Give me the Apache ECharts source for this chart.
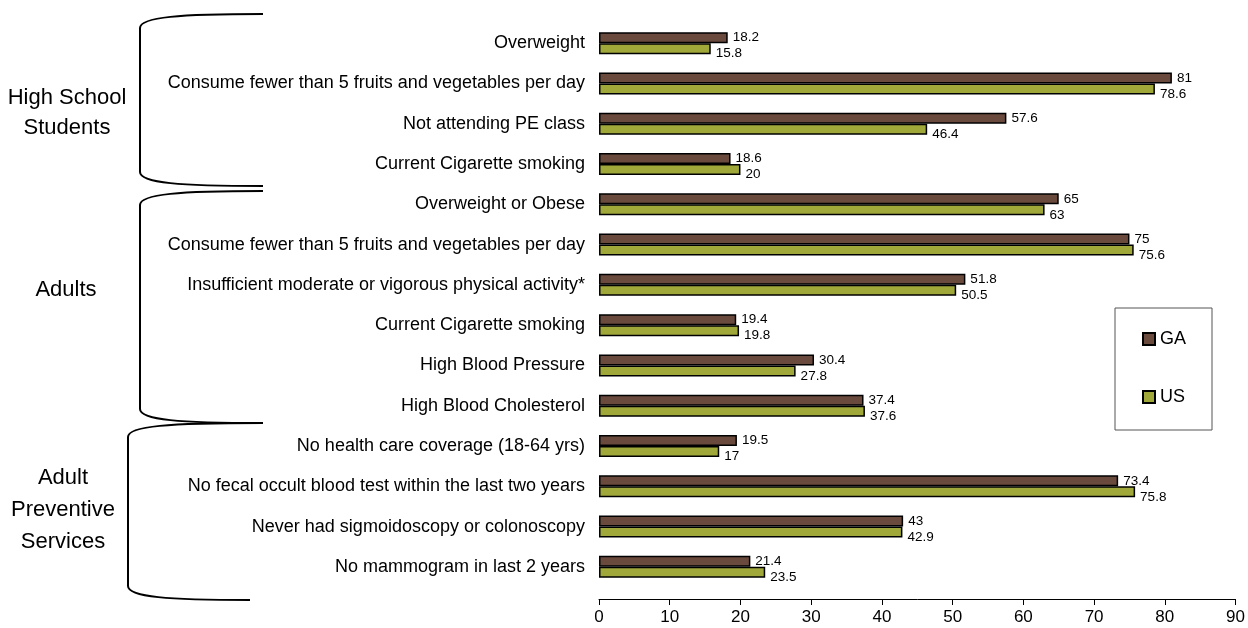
<!DOCTYPE html>
<html>
<head>
<meta charset="utf-8">
<script src="https://cdn.jsdelivr.net/npm/echarts@6/dist/echarts.min.js"></script>
<style>
  html, body { margin: 0; padding: 0; background: #fff; }
  #chart { width: 1248px; height: 628px; }
</style>
</head>
<body>
<div id="chart"></div>
<script>
const categories = [
  'Overweight',
  'Consume fewer than 5 fruits and vegetables per day',
  'Not attending PE class',
  'Current Cigarette smoking',
  'Overweight or Obese',
  'Consume fewer than 5 fruits and vegetables per day',
  'Insufficient moderate or vigorous physical activity*',
  'Current Cigarette smoking',
  'High Blood Pressure',
  'High Blood Cholesterol',
  'No health care coverage (18-64 yrs)',
  'No fecal occult blood test within the last two years',
  'Never had sigmoidoscopy or colonoscopy',
  'No mammogram in last 2 years'
]
const gaValues = [18.2, 81, 57.6, 18.6, 65, 75, 51.8, 19.4, 30.4, 37.4, 19.5, 73.4, 43, 21.4]
const usValues = [15.8, 78.6, 46.4, 20, 63, 75.6, 50.5, 19.8, 27.8, 37.6, 17, 75.8, 42.9, 23.5]
const xTicks = [0, 90, 10] // min, max, interval

const FONT = '"Liberation Sans", Arial, sans-serif'

// left-hand braces: vertical x, tip x (top / bottom), tip y (top / bottom)
function brace(x, tipTopX, tipBotX, yTop, yBot) {
  const h = 14
  const st = { stroke: '#000', lineWidth: 2, fill: null }
  return [
    { type: 'bezierCurve', shape: { x1: tipTopX, y1: yTop, x2: x, y2: yTop + h, cpx1: x + 40, cpy1: yTop, cpx2: x, cpy2: yTop + 3 }, style: st },
    { type: 'line', shape: { x1: x, y1: yTop + h, x2: x, y2: yBot - h }, style: st },
    { type: 'bezierCurve', shape: { x1: x, y1: yBot - h, x2: tipBotX, y2: yBot, cpx1: x, cpy1: yBot - 3, cpx2: x + 40, cpy2: yBot }, style: st }
  ]
}

function groupLabel(text, x, y, lh) {
  return {
    type: 'text', x: x, y: y,
    style: { text: text, fill: '#000', font: '22px ' + FONT, textAlign: 'center', textVerticalAlign: 'middle', lineHeight: lh }
  }
}

const chart = echarts.init(document.getElementById('chart'))
chart.setOption({
  animation: false,
  textStyle: { fontFamily: FONT },
  grid: { left: 599, right: 10, top: 23, bottom: 41 },
  legend: {
    orient: 'vertical',
    left: 1115, top: 308,
    padding: [22, 26, 24, 27],
    itemGap: 40,
    itemWidth: 12, itemHeight: 12,
    icon: 'rect',
    borderColor: '#555', borderWidth: 1,
    textStyle: { fontSize: 18, color: '#000', fontFamily: FONT },
    data: ['GA', 'US']
  },
  xAxis: {
    type: 'value',
    min: xTicks[0], max: xTicks[1], interval: xTicks[2],
    offset: 12,
    splitLine: { show: false },
    axisLine: { show: true, lineStyle: { color: '#000', width: 1 } },
    axisTick: { show: true, length: 6, lineStyle: { color: '#000' } },
    axisLabel: { color: '#000', fontSize: 17, margin: 10, fontFamily: FONT }
  },
  yAxis: {
    type: 'category',
    inverse: true,
    data: categories,
    axisLine: { show: false },
    axisTick: { show: false },
    axisLabel: { color: '#000', fontSize: 18, margin: 14, fontFamily: FONT }
  },
  series: [
    {
      name: 'GA', type: 'bar', data: gaValues,
      barWidth: 11, barGap: '0%',
      itemStyle: { color: '#6b4a3e', borderColor: '#000', borderWidth: 1.5 },
      label: { show: true, position: 'right', distance: 5, offset: [0, 0], color: '#000', fontSize: 13.5, fontFamily: FONT }
    },
    {
      name: 'US', type: 'bar', data: usValues,
      barWidth: 11, barGap: '0%',
      itemStyle: { color: '#a0a83a', borderColor: '#000', borderWidth: 1.5 },
      label: { show: true, position: 'right', distance: 5, offset: [0, 5], color: '#000', fontSize: 13.5, fontFamily: FONT }
    }
  ],
  graphic: [].concat(
    brace(140, 263, 263, 14, 186),
    brace(140, 263, 263, 191, 423),
    brace(128, 263, 250, 423, 600),
    [
      groupLabel('High School\nStudents', 67, 113, 30),
      groupLabel('Adults', 66, 290, 30),
      groupLabel('Adult\nPreventive\nServices', 63, 510, 32)
    ]
  )
})
</script>
</body>
</html>
